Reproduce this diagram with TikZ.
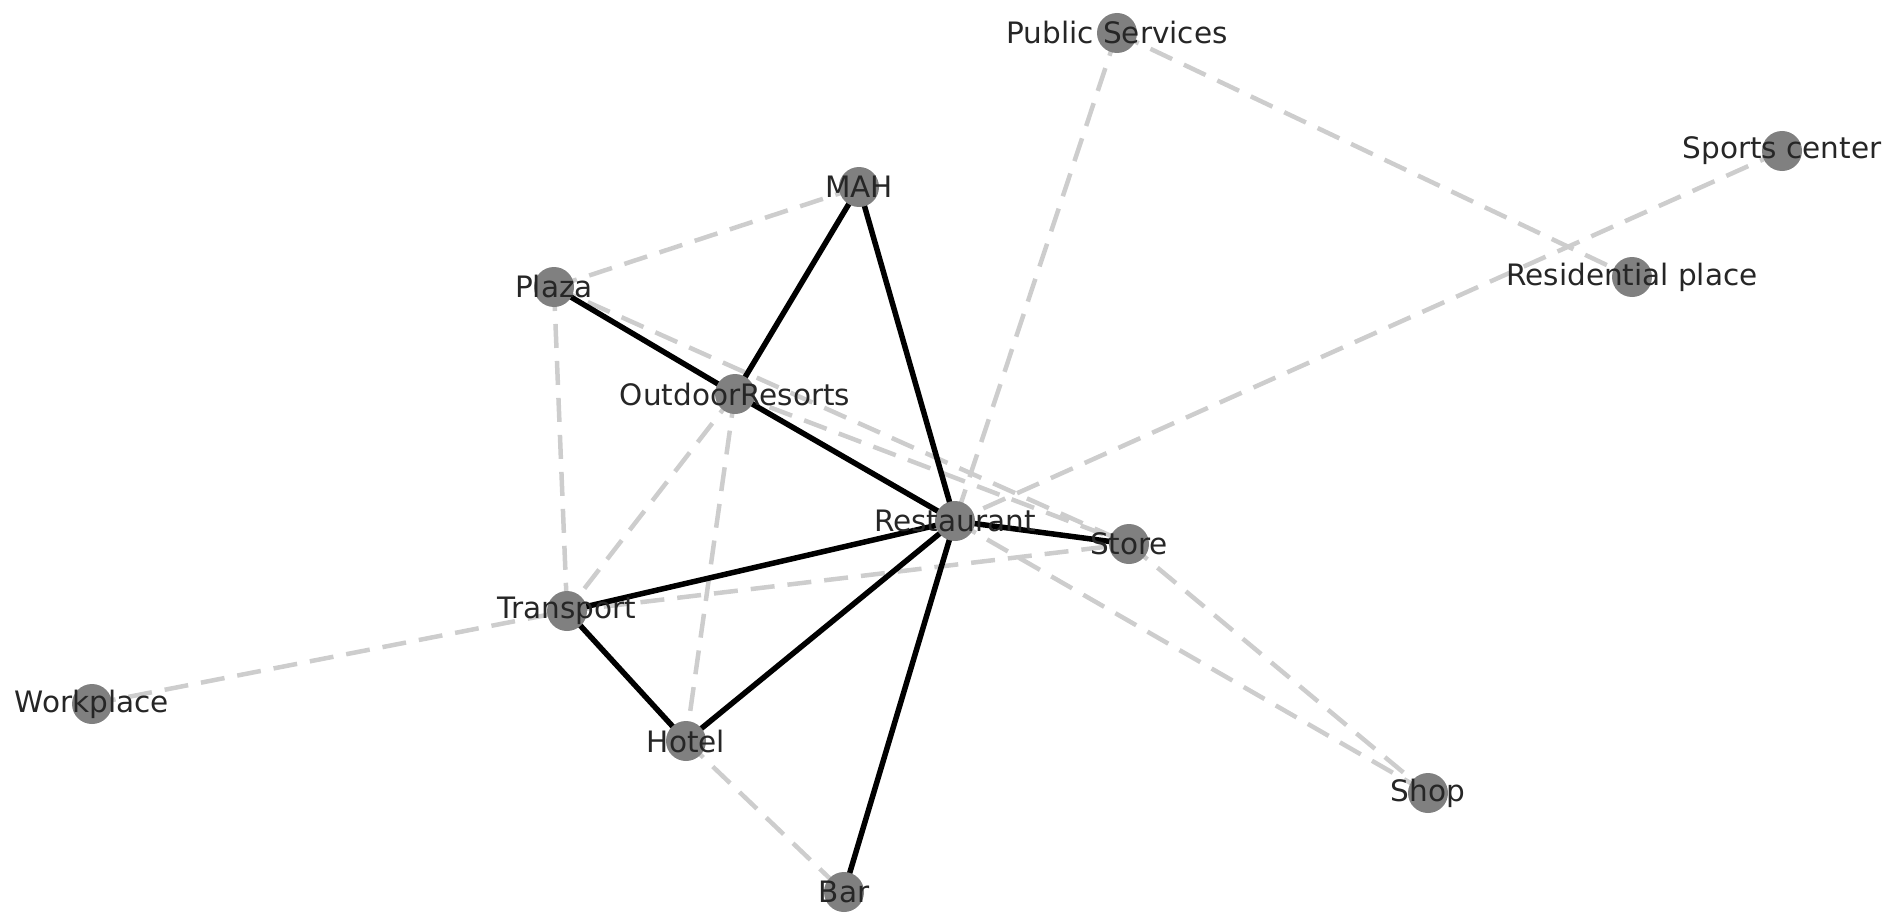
\documentclass[tikz,border=0pt]{standalone}
\usepackage{fontspec}
\setmainfont{DejaVu Sans}
\usetikzlibrary{backgrounds}
\definecolor{nodegray}{RGB}{128,128,128}
\definecolor{edgegray}{RGB}{205,205,205}
\begin{document}
\begin{tikzpicture}[x=1pt,y=-1pt,
  dot/.style={circle,fill=nodegray,draw=none,minimum size=40pt,inner sep=0pt},
  lab/.style={font=\fontsize{29.5}{34}\selectfont,text=black!85,inner sep=0pt},
  strong/.style={draw=black,line width=5.5pt},
  weak/.style={draw=edgegray,line width=4.5pt,dash pattern=on 24pt off 13pt}]
\useasboundingbox (0,0) rectangle (1890,915);
\node[dot] (ps) at (1117,33) {};
\node[dot] (sc) at (1782,151) {};
\node[dot] (mah) at (859,187) {};
\node[dot] (res) at (1632,277) {};
\node[dot] (pl) at (554,287) {};
\node[dot] (or) at (735,394) {};
\node[dot] (rest) at (955,521) {};
\node[dot] (st) at (1129,544) {};
\node[dot] (tr) at (567,611) {};
\node[dot] (wp) at (92,704) {};
\node[dot] (ho) at (686,741) {};
\node[dot] (sh) at (1428,793) {};
\node[dot] (bar) at (844,892) {};
\begin{scope}[on background layer]
\draw[weak] (pl.center) -- (mah.center);
\draw[weak] (pl.center) -- (tr.center);
\draw[weak] (pl.center) -- (st.center);
\draw[weak] (or.center) -- (st.center);
\draw[weak] (or.center) -- (tr.center);
\draw[weak] (or.center) -- (ho.center);
\draw[weak] (rest.center) -- (sh.center);
\draw[weak] (st.center) -- (sh.center);
\draw[weak] (ps.center) -- (rest.center);
\draw[weak] (ps.center) -- (res.center);
\draw[weak] (sc.center) -- (rest.center);
\draw[weak] (tr.center) -- (st.center);
\draw[weak] (wp.center) -- (tr.center);
\draw[weak] (ho.center) -- (bar.center);
\draw[strong] (mah.center) -- (or.center);
\draw[strong] (mah.center) -- (rest.center);
\draw[strong] (pl.center) -- (or.center);
\draw[strong] (or.center) -- (rest.center);
\draw[strong] (rest.center) -- (st.center);
\draw[strong] (rest.center) -- (tr.center);
\draw[strong] (rest.center) -- (ho.center);
\draw[strong] (rest.center) -- (bar.center);
\draw[strong] (tr.center) -- (ho.center);
\end{scope}
\node[lab] at (ps) {Public Services};
\node[lab] at (sc) {Sports center};
\node[lab] at (mah) {MAH};
\node[lab] at (res) {Residential place};
\node[lab] at (pl) {Plaza};
\node[lab] at (or) {OutdoorResorts};
\node[lab] at (rest) {Restaurant};
\node[lab] at (st) {Store};
\node[lab] at (tr) {Transport};
\node[lab] at (wp) {Workplace};
\node[lab] at (ho) {Hotel};
\node[lab] at (sh) {Shop};
\node[lab] at (bar) {Bar};
\end{tikzpicture}
\end{document}
